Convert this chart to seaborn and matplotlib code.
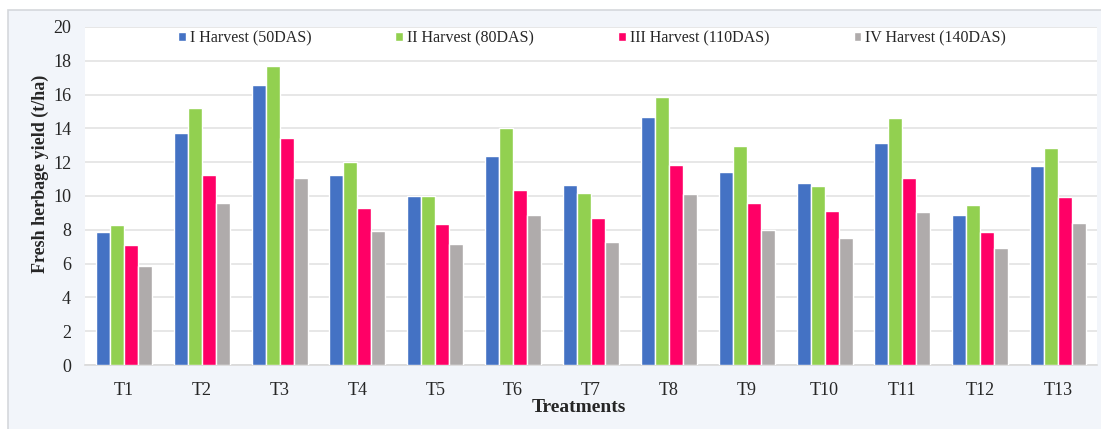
import matplotlib
matplotlib.use("Agg")
import matplotlib.pyplot as plt
import seaborn as sns
import pandas as pd
from matplotlib.patches import Rectangle

treatments = ["T1", "T2", "T3", "T4", "T5", "T6", "T7", "T8", "T9", "T10", "T11", "T12", "T13"]
harvest_1 = [7.85, 13.75, 16.57, 11.24, 10.02, 12.35, 10.67, 14.67, 11.40, 10.79, 13.14, 8.88, 11.78]
harvest_2 = [8.28, 15.19, 17.71, 12.01, 10.02, 14.02, 10.20, 15.88, 12.94, 10.59, 14.60, 9.47, 12.86]
harvest_3 = [7.08, 11.24, 13.41, 9.27, 8.32, 10.34, 8.72, 11.83, 9.57, 9.09, 11.05, 7.85, 9.94]
harvest_4 = [5.88, 9.60, 11.08, 7.93, 7.16, 8.88, 7.28, 10.12, 8.01, 7.49, 9.03, 6.90, 8.38]
series_names = ["I Harvest (50DAS)", "II Harvest (80DAS)", "III Harvest (110DAS)", "IV Harvest (140DAS)"]
colors = ["#4472C4", "#92D050", "#FF0066", "#AFABAB"]
y_ticks = [0, 2, 4, 6, 8, 10, 12, 14, 16, 18, 20]

rows = []
for name, vals in zip(series_names, [harvest_1, harvest_2, harvest_3, harvest_4]):
    for t, v in zip(treatments, vals):
        rows.append({"Treatment": t, "Series": name, "Value": v})
df = pd.DataFrame(rows)

sns.set_theme(style="white")
plt.rcParams["font.family"] = ["Liberation Serif", "DejaVu Serif"]

fig = plt.figure(figsize=(11.01, 4.29), dpi=100)
fig.patch.set_facecolor("white")
# outer panel
panel = Rectangle((8/1101, -0.05), 1.1, (429-10)/429 + 0.05, transform=fig.transFigure,
                  facecolor="#F2F5FA", edgecolor="#D5D8DC", linewidth=1.2, zorder=-10)
fig.patches.append(panel)

ax = fig.add_axes([85/1101, (429-365)/429, (1097-85)/1101, (365-27)/429])
ax.set_zorder(1)
ax.set_facecolor("white")
sns.barplot(data=df, x="Treatment", y="Value", hue="Series", palette=colors, saturation=1,
            width=0.72, edgecolor="white", linewidth=1.0, ax=ax, zorder=3)

ax.set_ylim(0, 20)
ax.set_yticks(y_ticks)
ax.set_xlim(-0.5, len(treatments) - 0.5)
ax.yaxis.grid(True, color="#E3E3E3", linewidth=1.2, zorder=0)
ax.set_axisbelow(True)
for s in ["top", "right", "left"]:
    ax.spines[s].set_visible(False)
ax.spines["bottom"].set_color("#D9D9D9")
ax.spines["bottom"].set_linewidth(1.2)
ax.tick_params(axis="both", length=0, labelsize=13, colors="#262626")
ax.tick_params(axis="x", pad=12)
ax.tick_params(axis="y", pad=10)
ax.set_xlabel("Treatments", fontsize=14, fontweight="bold")
ax.set_ylabel("Fresh herbage yield (t/ha)", fontsize=13, fontweight="bold")
ax.xaxis.set_label_coords((579 - 85) / 1012, -(407 - 365) / 338, transform=ax.transAxes)
ax.yaxis.set_label_coords(-(85 - 40) / 1012, (365 - 174) / 338, transform=ax.transAxes)
ax.xaxis.label.set_va("center")
ax.yaxis.label.set_va("center")

handles, labels = ax.get_legend_handles_labels()
leg = ax.legend(handles, labels, loc="upper left", bbox_to_anchor=((178 - 85) / 1012, 0.991), ncol=4,
                frameon=False, fontsize=11.5, handlelength=0.5, handleheight=0.5,
                handletextpad=0.25, columnspacing=5.25, borderaxespad=0, borderpad=0)
for t in leg.get_texts():
    t.set_color("#262626")

fig.savefig("out.png", dpi=100, facecolor=fig.get_facecolor())
